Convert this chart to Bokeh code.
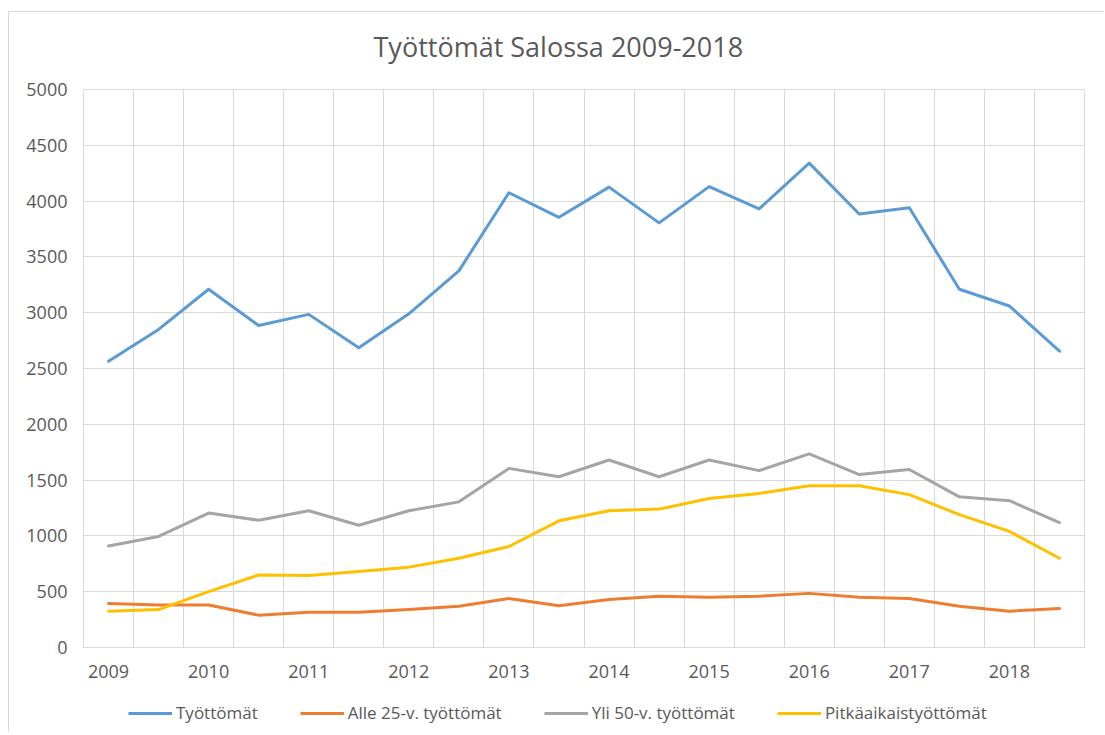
from bokeh.plotting import figure
from bokeh.layouts import column
from bokeh.models import FixedTicker, Legend, LegendItem, Label
from bokeh.embed import file_html
from bokeh.resources import INLINE

# ---- data ----
title_text = "Työttömät Salossa 2009-2018"
period_labels = ["2009", "", "2010", "", "2011", "", "2012", "", "2013", "",
                 "2014", "", "2015", "", "2016", "", "2017", "", "2018", ""]
tyottomat = [2565, 2850, 3210, 2885, 2985, 2685, 2990, 3375, 4075, 3855,
             4125, 3805, 4130, 3930, 4340, 3885, 3940, 3210, 3060, 2655]
alle25 = [395, 380, 380, 290, 315, 315, 340, 370, 440, 375,
          430, 460, 450, 460, 485, 450, 440, 370, 325, 350]
yli50 = [910, 995, 1205, 1140, 1225, 1095, 1225, 1305, 1605, 1530,
         1680, 1530, 1680, 1585, 1735, 1550, 1595, 1350, 1315, 1120]
pitkaaikais = [325, 340, 500, 650, 645, 680, 720, 800, 905, 1135,
               1225, 1240, 1335, 1380, 1450, 1450, 1370, 1190, 1040, 800]
series_names = ["Työttömät", "Alle 25-v. työttömät", "Yli 50-v. työttömät", "Pitkäaikaistyöttömät"]
series_colors = ["#5B9BD5", "#ED7D31", "#A5A5A5", "#FFC000"]
y_ticks = list(range(0, 5001, 500))

xs = list(range(len(period_labels)))
FONT = "Open Sans"
TXT = "#595959"
GRID = "#d9d9d9"


def strip(height):
    f = figure(width=1095, height=height, output_backend="svg", toolbar_location=None,
               x_range=(0, 1), y_range=(0, 1),
               min_border_left=0, min_border_right=0, min_border_top=0, min_border_bottom=0)
    f.axis.visible = False
    f.grid.visible = False
    f.outline_line_color = None
    f.background_fill_color = "white"
    f.border_fill_color = "white"
    return f


# title strip
tf = strip(60)
tf.add_layout(Label(x=290, y=26, x_units="screen", y_units="screen", text=title_text,
                    text_font=FONT, text_font_size="27px", text_color=TXT,
                    text_align="left", text_baseline="middle"))

p = figure(width=1095, height=620, output_backend="svg", toolbar_location=None,
           x_range=(-0.5, len(xs) - 0.5), y_range=(0, 5000),
           min_border_left=74, min_border_right=20, min_border_top=17, min_border_bottom=45)
p.outline_line_color = GRID
p.background_fill_color = "white"
p.border_fill_color = "white"

# axes
p.xaxis.ticker = FixedTicker(ticks=[i for i, l in enumerate(period_labels) if l])
p.xaxis.major_label_overrides = {i: l for i, l in enumerate(period_labels) if l}
p.yaxis.ticker = FixedTicker(ticks=y_ticks)
for ax in (p.xaxis[0], p.yaxis[0]):
    ax.major_tick_line_color = None
    ax.minor_tick_line_color = None
    ax.major_tick_out = 0
    ax.major_tick_in = 0
    ax.major_label_text_font = FONT
    ax.major_label_text_font_size = "18px"
    ax.major_label_text_color = TXT
    ax.axis_line_color = GRID
p.yaxis.axis_line_color = None
p.yaxis.major_label_standoff = 16
p.xaxis.major_label_standoff = 17

p.xgrid.ticker = FixedTicker(ticks=[i - 0.5 for i in range(len(xs) + 1)])
p.xgrid.grid_line_color = GRID
p.ygrid.ticker = FixedTicker(ticks=y_ticks)
p.ygrid.grid_line_color = GRID

all_series = [tyottomat, alle25, yli50, pitkaaikais]
for vals, col in zip(all_series, series_colors):
    p.line(xs, vals, line_color=col, line_width=3, line_join="round", line_cap="round")

# legend strip below the chart (keys use the same colours as the series;
# the key lines' own data lie outside this strip's range, so only the keys show)
lf = strip(40)
items = []
for name, col in zip(series_names, series_colors):
    r = lf.line([5, 6], [5, 5], line_color=col, line_width=3)
    items.append(LegendItem(label=name, renderers=[r]))
legend = Legend(items=items, orientation="horizontal", location=(45, 8),
                label_text_font=FONT, label_text_font_size="17px", label_text_color=TXT,
                glyph_width=44, glyph_height=20, label_standoff=4, spacing=42,
                border_line_color=None, background_fill_alpha=0, padding=4, margin=0)
lf.add_layout(legend, "center")

layout = column(tf, p, lf, spacing=0)
layout.styles = {"border-left": "1px solid #d9d9d9", "border-top": "1px solid #d9d9d9",
                 "margin-left": "8px", "margin-top": "11px"}

open("out.html", "w").write(file_html(layout, INLINE))
